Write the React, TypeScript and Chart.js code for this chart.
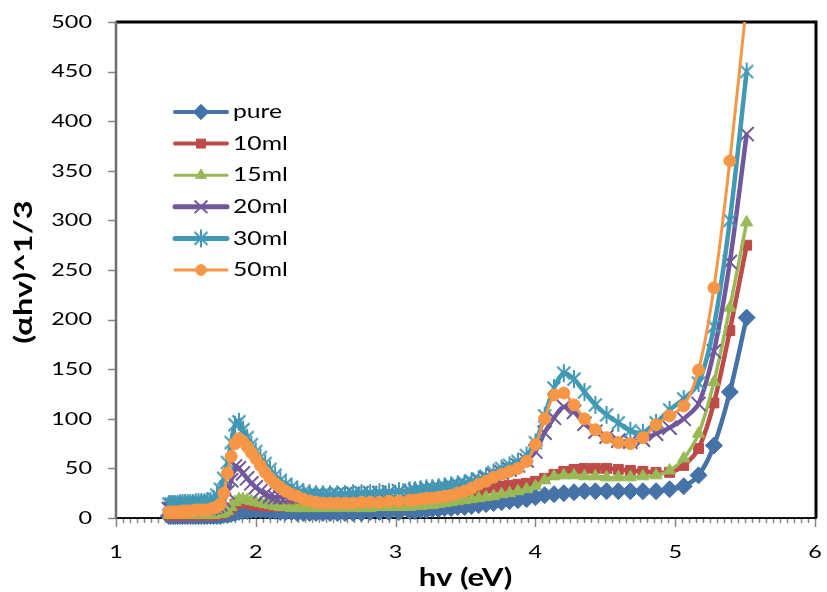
import React, { useEffect, useRef } from 'react';
import { Chart, registerables } from 'chart.js';
import { drawPoint } from 'chart.js/helpers';

Chart.register(...registerables);

// photon energy hv (eV)
const hv = [
  1.378, 1.393, 1.409, 1.425, 1.442, 1.459, 1.476, 1.494, 1.512, 1.531,
  1.550, 1.570, 1.590, 1.610, 1.632, 1.653, 1.676, 1.699, 1.722, 1.746,
  1.771, 1.797, 1.824, 1.851, 1.879, 1.908, 1.938, 1.968, 2.000, 2.033,
  2.067, 2.102, 2.138, 2.175, 2.214, 2.255, 2.296, 2.340, 2.385, 2.431,
  2.480, 2.531, 2.583, 2.638, 2.696, 2.756, 2.818, 2.884, 2.952, 3.024,
  3.100, 3.139, 3.179, 3.221, 3.263, 3.307, 3.351, 3.397, 3.444, 3.493,
  3.543, 3.594, 3.647, 3.701, 3.758, 3.815, 3.875, 3.937, 4.000, 4.066,
  4.133, 4.203, 4.276, 4.351, 4.429, 4.509, 4.593, 4.679, 4.769, 4.863,
  4.960, 5.061, 5.167, 5.277, 5.391, 5.511,
];

const pure = [
  2, 2, 2, 2, 2, 2, 2, 2, 2, 2,
  2, 2, 2, 2, 2, 2, 2, 2, 2, 2,
  3, 3, 4, 5, 6, 7, 7, 8, 8, 8,
  8, 7, 7, 6, 6, 6, 5, 5, 5, 5,
  5, 5, 5, 5, 5, 5, 6, 6, 6, 6,
  7, 7, 8, 8, 9, 9, 10, 10, 11, 11,
  12, 13, 14, 15, 16, 17, 18, 19, 21, 23,
  24, 25, 26, 27, 27, 27, 27, 27, 27, 27,
  29, 32, 43, 73, 127, 202,
];

const ml10 = [
  3, 3, 3, 3, 3, 3, 3, 3, 3, 3,
  3, 3, 3, 3, 3, 3, 3, 3, 4, 4,
  5, 7, 10, 14, 16, 16, 15, 14, 13, 13,
  12, 12, 12, 12, 12, 12, 12, 12, 12, 12,
  13, 13, 13, 13, 14, 14, 15, 15, 16, 17,
  18, 19, 19, 20, 21, 22, 23, 24, 25, 26,
  27, 28, 30, 31, 32, 33, 34, 35, 37, 40,
  44, 47, 49, 50, 50, 50, 49, 48, 47, 46,
  46, 53, 70, 116, 189, 275,
];

const ml15 = [
  3, 3, 3, 3, 3, 3, 3, 3, 3, 3,
  3, 3, 3, 3, 3, 3, 3, 3, 4, 4,
  5, 7, 11, 16, 19, 19, 18, 17, 16, 15,
  14, 13, 12, 11, 11, 10, 10, 10, 10, 10,
  10, 10, 10, 10, 10, 10, 10, 11, 11, 11,
  11, 12, 12, 13, 13, 14, 15, 16, 17, 18,
  19, 20, 21, 22, 24, 25, 27, 29, 32, 38,
  42, 43, 43, 42, 42, 41, 41, 41, 42, 43,
  48, 60, 85, 137, 212, 298,
];

const ml20 = [
  9, 9, 9, 9, 9, 9, 9, 9, 9, 9,
  9, 10, 10, 10, 10, 10, 10, 11, 12, 14,
  18, 26, 38, 52, 50, 45, 40, 35, 31, 27,
  24, 22, 21, 21, 21, 22, 22, 22, 23, 23,
  23, 23, 24, 24, 24, 25, 25, 25, 26, 27,
  27, 28, 28, 29, 30, 30, 31, 32, 33, 34,
  36, 38, 40, 43, 46, 49, 53, 58, 67, 86,
  101, 112, 107, 95, 87, 82, 78, 77, 79, 85,
  91, 100, 115, 168, 258, 387,
];

const ml30 = [
  14, 14, 14, 14, 14, 15, 15, 15, 15, 15,
  15, 16, 16, 16, 16, 17, 17, 19, 23, 29,
  40, 56, 76, 94, 97, 89, 81, 74, 67, 61,
  55, 49, 43, 38, 34, 31, 28, 26, 25, 24,
  24, 24, 24, 24, 25, 25, 25, 26, 26, 27,
  28, 28, 29, 30, 30, 31, 32, 33, 34, 35,
  37, 39, 42, 46, 50, 53, 57, 63, 76, 103,
  131, 146, 140, 127, 114, 104, 96, 88, 86, 96,
  109, 120, 136, 193, 300, 450,
];

const ml50 = [
  6, 6, 6, 6, 6, 6, 7, 7, 7, 7,
  7, 8, 8, 8, 8, 8, 9, 10, 11, 14,
  25, 45, 62, 75, 80, 77, 72, 66, 60, 53,
  46, 40, 35, 31, 27, 24, 22, 19, 17, 16,
  15, 15, 15, 15, 15, 16, 16, 16, 17, 17,
  18, 18, 19, 20, 20, 21, 22, 23, 25, 27,
  30, 34, 37, 41, 44, 47, 50, 57, 74, 100,
  124, 126, 114, 100, 89, 81, 76, 75, 81, 94,
  103, 113, 149, 232, 360, 520,
];

const seriesNames = ['pure', '10ml', '15ml', '20ml', '30ml', '50ml'];
const seriesValues = [pure, ml10, ml15, ml20, ml30, ml50];
const xTickValues = [1, 2, 3, 4, 5, 6];
const yTickValues = [0, 50, 100, 150, 200, 250, 300, 350, 400, 450, 500];
const xTitle = 'hv (eV)';
const yTitle = '(\u03b1hv)^1/3';

const colors = ['#4572A7', '#BE4B48', '#98B954', '#71589C', '#4199B5', '#F79646'];
const lineWidths = [4.5, 4.5, 3.5, 4.5, 4.5, 3];
const legendLineWidths = [4, 4, 3, 5, 5, 3];

const SX = 1.3;
const FONT = 'Lato, "Open Sans", sans-serif';

function makeStar(color: string, r: number, lw: number) {
  const s = Math.ceil(2 * r + lw * 2);
  const c = document.createElement('canvas');
  c.width = s;
  c.height = s;
  const g = c.getContext('2d')!;
  g.strokeStyle = color;
  g.lineWidth = lw;
  const cx = s / 2;
  const cy = s / 2;
  const d = r * 0.72;
  g.beginPath();
  g.moveTo(cx - d, cy - d);
  g.lineTo(cx + d, cy + d);
  g.moveTo(cx + d, cy - d);
  g.lineTo(cx - d, cy + d);
  g.moveTo(cx, cy - r);
  g.lineTo(cx, cy + r);
  g.stroke();
  return c;
}

function stretchText(
  ctx: CanvasRenderingContext2D,
  text: string,
  x: number,
  y: number,
  align: 'left' | 'center' | 'right',
  font: string,
  sx = SX,
) {
  ctx.save();
  ctx.font = font;
  ctx.fillStyle = '#000';
  ctx.textBaseline = 'middle';
  ctx.textAlign = 'left';
  const w = ctx.measureText(text).width * sx;
  let left = x;
  if (align === 'center') left = x - w / 2;
  else if (align === 'right') left = x - w;
  ctx.translate(left, y);
  ctx.scale(sx, 1);
  ctx.fillText(text, 0, 0);
  ctx.restore();
}

export default function App() {
  const ref = useRef<HTMLCanvasElement>(null);

  useEffect(() => {
    const canvas = ref.current!;
    const star = makeStar(colors[4], 9, 2);
    const styles: any[] = [
      { pointStyle: 'rectRot', radius: 8.5, borderWidth: 1 },
      { pointStyle: 'rect', radius: 7, borderWidth: 1 },
      { pointStyle: 'triangle', radius: 7, borderWidth: 1 },
      { pointStyle: 'crossRot', radius: 10, borderWidth: 2 },
      { pointStyle: star, radius: 9, borderWidth: 2 },
      { pointStyle: 'circle', radius: 6, borderWidth: 1 },
    ];

    const frame = {
      id: 'frame',
      beforeDatasetsDraw(chart: any) {
        const { ctx, chartArea, scales } = chart;
        const { left, right, top, bottom } = chartArea;
        const xs = scales.x;
        const ys = scales.y;
        ctx.save();
        ctx.lineCap = 'butt';
        ctx.strokeStyle = '#868686';
        ctx.lineWidth = 1.5;
        ctx.beginPath();
        for (const v of yTickValues) {
          const py = Math.round(ys.getPixelForValue(v)) + 0.5;
          ctx.moveTo(left - 8, py);
          ctx.lineTo(left, py);
        }
        for (let k = 0; k <= 100; k++) {
          const v = 1 + k * 0.05;
          const px = Math.round(xs.getPixelForValue(v)) + 0.5;
          const len = k % 20 === 0 ? 9 : 5;
          ctx.moveTo(px, bottom);
          ctx.lineTo(px, bottom + len);
        }
        ctx.stroke();
        ctx.strokeStyle = '#000';
        ctx.lineWidth = 3;
        ctx.beginPath();
        ctx.moveTo(left, top);
        ctx.lineTo(right + 1, top);
        ctx.lineTo(right + 1, bottom);
        ctx.stroke();
        ctx.strokeStyle = '#111';
        ctx.lineWidth = 2;
        ctx.beginPath();
        ctx.moveTo(left - 1, bottom);
        ctx.lineTo(right + 2, bottom);
        ctx.stroke();
        ctx.strokeStyle = '#6e6e6e';
        ctx.lineWidth = 2.5;
        ctx.beginPath();
        ctx.moveTo(left, top - 1);
        ctx.lineTo(left, bottom + 1);
        ctx.stroke();
        ctx.restore();
      },
      afterDraw(chart: any) {
        const { ctx, chartArea, scales } = chart;
        const { left, top, bottom } = chartArea;
        const xs = scales.x;
        const ys = scales.y;
        const tickFont = `18px ${FONT}`;
        for (const v of yTickValues) {
          stretchText(ctx, String(v), left - 24, ys.getPixelForValue(v), 'right', tickFont);
        }
        for (const v of xTickValues) {
          stretchText(ctx, String(v), xs.getPixelForValue(v), bottom + 34, 'center', tickFont);
        }
        stretchText(ctx, xTitle, (left + chartArea.right) / 2, bottom + 60, 'center', `bold 24px ${FONT}`);
        ctx.save();
        ctx.translate(24, (top + bottom) / 2 + 2);
        ctx.rotate(-Math.PI / 2);
        stretchText(ctx, yTitle, 0, 0, 'center', `bold 25px ${FONT}`);
        ctx.restore();

        const legFont = `19px ${FONT}`;
        for (let i = 0; i < seriesNames.length; i++) {
          const ly = 112 + i * 31.6;
          ctx.save();
          ctx.strokeStyle = colors[i];
          ctx.lineWidth = legendLineWidths[i];
          ctx.lineCap = 'round';
          ctx.beginPath();
          ctx.moveTo(175, ly);
          ctx.lineTo(227, ly);
          ctx.stroke();
          ctx.fillStyle = colors[i];
          ctx.strokeStyle = colors[i];
          ctx.lineWidth = styles[i].borderWidth;
          ctx.lineCap = 'butt';
          drawPoint(ctx, { pointStyle: styles[i].pointStyle, rotation: 0, radius: styles[i].radius * 0.9, borderWidth: styles[i].borderWidth }, 201, ly);
          ctx.restore();
          stretchText(ctx, seriesNames[i], 233, ly, 'left', legFont);
        }
      },
    };

    const datasets = seriesNames.map((name, i) => ({
      label: name,
      data: hv.map((x, j) => ({ x, y: seriesValues[i][j] })),
      borderColor: colors[i],
      backgroundColor: colors[i],
      borderWidth: lineWidths[i],
      tension: 0.3,
      pointStyle: styles[i].pointStyle,
      pointRadius: styles[i].radius,
      pointBorderWidth: styles[i].borderWidth,
      pointBackgroundColor: colors[i],
      pointBorderColor: colors[i],
      order: seriesNames.length - i,
      clip: { left: false, top: 0, right: false, bottom: false },
    }));

    const chart = new Chart(canvas, {
      type: 'line',
      data: { datasets: datasets as any },
      options: {
        animation: false,
        responsive: false,
        devicePixelRatio: 1,
        events: [],
        layout: { padding: { left: 116, right: 8, top: 22, bottom: 74 } },
        plugins: { legend: { display: false }, tooltip: { enabled: false } },
        scales: {
          x: { type: 'linear', min: 1, max: 6, display: false },
          y: { type: 'linear', min: 0, max: 500, display: false },
        },
      },
      plugins: [frame],
    });
    return () => chart.destroy();
  }, []);

  return (
    <div style={{ position: 'fixed', left: 0, top: 0, width: 827, height: 592, background: '#fff' }}>
      <canvas ref={ref} width={827} height={592} style={{ display: 'block', width: 827, height: 592 }} />
    </div>
  );
}
